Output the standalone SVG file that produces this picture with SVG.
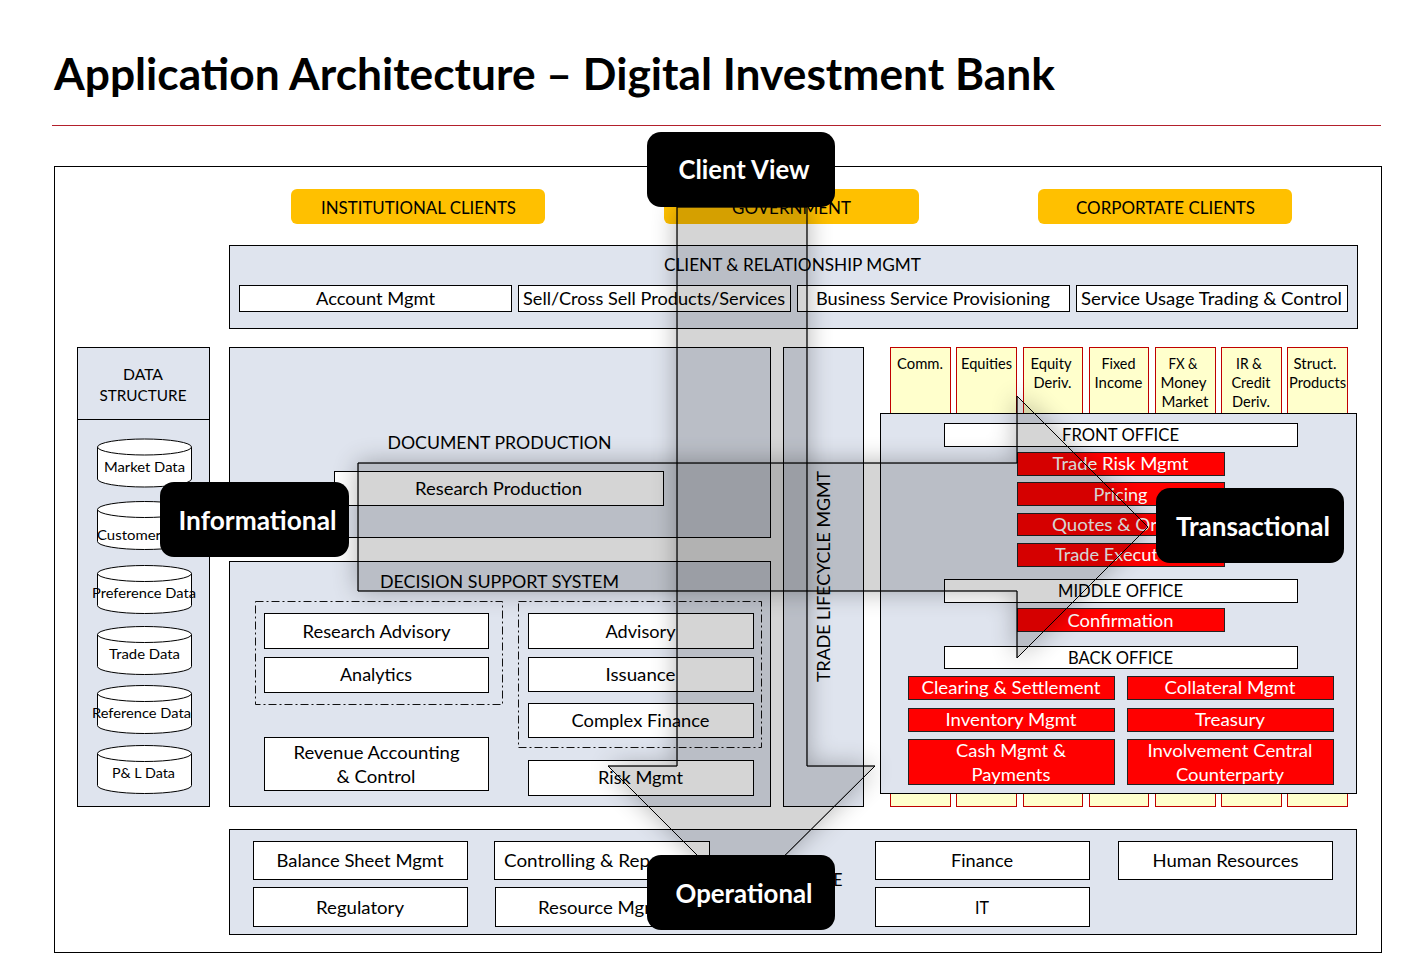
<svg xmlns="http://www.w3.org/2000/svg" xmlns:xlink="http://www.w3.org/1999/xlink" width="1428" height="971" viewBox="0 0 1428 971">
<style>
text{font-family:Lato,"Open Sans","Liberation Sans",sans-serif;fill:#000;text-anchor:middle;font-size:18px}
rect,path,ellipse{stroke:#000;stroke-width:1}
.panel{fill:#dfe4ee}
.box{fill:#fff}
.client{fill:#ffc000;stroke:none}
.prod{fill:#ffffcc;stroke:#c00000}
.red{fill:#ff0000;stroke:#222}
.red-t{fill:#fff}
.dash{fill:none;stroke-dasharray:8 3 2 3;stroke:#111}
.cyl{fill:#fff}
.small{font-size:14px}
.ptext{font-size:15px}
.lab{fill:#000;stroke:none}
.lab-t{fill:#fff;font-weight:700;font-size:26px}
.afill{fill:#000;fill-opacity:.165;stroke:none}
.aedge{fill:none;stroke:#ababab;stroke-opacity:.6;stroke-width:3}
.ashadow{fill:#000;stroke:none}
</style>
<defs>
<filter id="outer" x="-20%" y="-20%" width="140%" height="140%">
<feGaussianBlur in="SourceAlpha" stdDeviation="13" result="b"/>
<feComponentTransfer in="b" result="c"><feFuncA type="linear" slope=".3"/></feComponentTransfer>
<feComposite in="c" in2="SourceAlpha" operator="out"/>
</filter>
<path id="vArrow" d="M677 207H807V766H875L741 899L608 766H677Z"/>
<path id="hArrow" d="M358 463H1017V396L1148 527L1017 658V591H358Z"/>
<g id="cylShape"><path class="cyl" d="M97.500 8V40A47 8 0 0 0 191.500 40V8"/><ellipse class="cyl" cx="144.500" cy="8" rx="47" ry="8"/></g>
</defs>

<text x="54" y="90" style="text-anchor:start;font-weight:700;font-size:44px" textLength="1001" lengthAdjust="spacingAndGlyphs">Application Architecture – Digital Investment Bank</text>
<path d="M52 125.500H1381" style="stroke:#b3202c"/>
<rect x="54.500" y="166.500" width="1327" height="786" fill="#fff"/>

<g id="client-institutional"><rect class="client" x="291" y="189" width="254" height="35" rx="6"/><text x="418.500" y="214" textLength="195" lengthAdjust="spacingAndGlyphs">INSTITUTIONAL CLIENTS</text></g>
<g id="client-government"><rect class="client" x="664" y="189" width="255" height="35" rx="6"/><text x="791.500" y="214" textLength="119" lengthAdjust="spacingAndGlyphs">GOVERNMENT</text></g>
<g id="client-corporate"><rect class="client" x="1038" y="189" width="254" height="35" rx="6"/><text x="1165.500" y="214" textLength="179" lengthAdjust="spacingAndGlyphs">CORPORTATE CLIENTS</text></g>

<g id="client-relationship">
<rect class="panel" x="229.500" y="245.500" width="1128" height="83"/>
<text x="792.500" y="271" textLength="257" lengthAdjust="spacingAndGlyphs">CLIENT &amp; RELATIONSHIP MGMT</text>
<rect class="box" x="239.500" y="285.500" width="272" height="26"/><text x="375.500" y="305" textLength="119" lengthAdjust="spacingAndGlyphs">Account Mgmt</text>
<rect class="box" x="518.500" y="285.500" width="272" height="26"/><text x="654" y="305" textLength="262" lengthAdjust="spacingAndGlyphs">Sell/Cross Sell Products/Services</text>
<rect class="box" x="797.500" y="285.500" width="272" height="26"/><text x="933" y="305" textLength="234" lengthAdjust="spacingAndGlyphs">Business Service Provisioning</text>
<rect class="box" x="1076.500" y="285.500" width="271" height="26"/><text x="1211.500" y="305" textLength="261" lengthAdjust="spacingAndGlyphs">Service Usage Trading &amp; Control</text>
</g>

<g id="data-structure">
<rect class="panel" x="77.500" y="347.500" width="132" height="459"/>
<path d="M77.500 419.500H209.500"/>
<text class="ptext" style="font-size:16px" x="143" y="380" textLength="40" lengthAdjust="spacingAndGlyphs">DATA</text>
<text class="ptext" style="font-size:16px" x="143" y="401" textLength="87" lengthAdjust="spacingAndGlyphs">STRUCTURE</text>
<use xlink:href="#cylShape" href="#cylShape" y="439"/><text class="small" x="144.500" y="472" textLength="81" lengthAdjust="spacingAndGlyphs">Market Data</text>
<use xlink:href="#cylShape" href="#cylShape" y="501.500"/><text class="small" x="97" y="540" style="text-anchor:start" textLength="64" lengthAdjust="spacingAndGlyphs">Customer</text>
<use xlink:href="#cylShape" href="#cylShape" y="565.500"/><text class="small" x="144" y="598" textLength="104" lengthAdjust="spacingAndGlyphs">Preference Data</text>
<use xlink:href="#cylShape" href="#cylShape" y="626.500"/><text class="small" x="144.500" y="659" textLength="71" lengthAdjust="spacingAndGlyphs">Trade Data</text>
<use xlink:href="#cylShape" href="#cylShape" y="685.500"/><text class="small" x="141.500" y="718" textLength="99" lengthAdjust="spacingAndGlyphs">Reference Data</text>
<use xlink:href="#cylShape" href="#cylShape" y="745.500"/><text class="small" x="143.500" y="778" textLength="63" lengthAdjust="spacingAndGlyphs">P&amp; L Data</text>
</g>

<g id="document-production">
<rect class="panel" x="229.500" y="347.500" width="541" height="190"/>
<text x="499.500" y="449" textLength="224" lengthAdjust="spacingAndGlyphs">DOCUMENT PRODUCTION</text>
<rect class="box" x="334.500" y="471.500" width="329" height="34"/><text x="498.500" y="495" textLength="167" lengthAdjust="spacingAndGlyphs">Research Production</text>
</g>

<g id="decision-support">
<rect class="panel" x="229.500" y="561.500" width="541" height="245"/>
<text x="499.500" y="588" textLength="239" lengthAdjust="spacingAndGlyphs">DECISION SUPPORT SYSTEM</text>
<rect class="dash" x="255.500" y="601.500" width="247" height="103"/>
<rect class="dash" x="518.500" y="601.500" width="243" height="146"/>
<rect class="box" x="264.500" y="613.500" width="224" height="35"/><text x="376.500" y="638" textLength="148" lengthAdjust="spacingAndGlyphs">Research Advisory</text>
<rect class="box" x="264.500" y="657.500" width="224" height="35"/><text x="376" y="681" textLength="72" lengthAdjust="spacingAndGlyphs">Analytics</text>
<rect class="box" x="528.500" y="613.500" width="225" height="35"/><text x="640.500" y="638" textLength="70" lengthAdjust="spacingAndGlyphs">Advisory</text>
<rect class="box" x="528.500" y="657.500" width="225" height="34"/><text x="640.500" y="681" textLength="70" lengthAdjust="spacingAndGlyphs">Issuance</text>
<rect class="box" x="528.500" y="703.500" width="225" height="34"/><text x="640.500" y="727" textLength="138" lengthAdjust="spacingAndGlyphs">Complex Finance</text>
<rect class="box" x="264.500" y="737.500" width="224" height="53"/><text x="376.500" y="759" textLength="166" lengthAdjust="spacingAndGlyphs">Revenue Accounting</text><text x="376" y="783" textLength="79" lengthAdjust="spacingAndGlyphs">&amp; Control</text>
<rect class="box" x="528.500" y="760.500" width="225" height="35"/><text x="640.500" y="784" textLength="85" lengthAdjust="spacingAndGlyphs">Risk Mgmt</text>
</g>

<g id="trade-lifecycle">
<rect class="panel" x="783.500" y="347.500" width="80" height="459"/>
<text transform="translate(830 576.500) rotate(-90)" textLength="211" lengthAdjust="spacingAndGlyphs">TRADE LIFECYCLE MGMT</text>
</g>

<g id="products">
<rect class="prod" x="890.500" y="347.500" width="60" height="459"/><text class="ptext" x="920" y="369" textLength="46" lengthAdjust="spacingAndGlyphs">Comm.</text>
<rect class="prod" x="956.500" y="347.500" width="60" height="459"/><text class="ptext" x="986.500" y="369" textLength="51" lengthAdjust="spacingAndGlyphs">Equities</text>
<rect class="prod" x="1023.500" y="347.500" width="59" height="459"/><text class="ptext" x="1051" y="369" textLength="41" lengthAdjust="spacingAndGlyphs">Equity</text><text class="ptext" x="1052.500" y="388" textLength="38" lengthAdjust="spacingAndGlyphs">Deriv.</text>
<rect class="prod" x="1089.500" y="347.500" width="59" height="459"/><text class="ptext" x="1118.500" y="369" textLength="34" lengthAdjust="spacingAndGlyphs">Fixed</text><text class="ptext" x="1118.500" y="388" textLength="48" lengthAdjust="spacingAndGlyphs">Income</text>
<rect class="prod" x="1155.500" y="347.500" width="60" height="459"/><text class="ptext" x="1183" y="369" textLength="29" lengthAdjust="spacingAndGlyphs">FX &amp;</text><text class="ptext" x="1183.500" y="388" textLength="46" lengthAdjust="spacingAndGlyphs">Money</text><text class="ptext" x="1185" y="407" textLength="47" lengthAdjust="spacingAndGlyphs">Market</text>
<rect class="prod" x="1221.500" y="347.500" width="60" height="459"/><text class="ptext" x="1249" y="369" textLength="26" lengthAdjust="spacingAndGlyphs">IR &amp;</text><text class="ptext" x="1251" y="388" textLength="39" lengthAdjust="spacingAndGlyphs">Credit</text><text class="ptext" x="1251" y="407" textLength="38" lengthAdjust="spacingAndGlyphs">Deriv.</text>
<rect class="prod" x="1287.500" y="347.500" width="60" height="459"/><text class="ptext" x="1315" y="369" textLength="43" lengthAdjust="spacingAndGlyphs">Struct.</text><text class="ptext" x="1317.500" y="388" textLength="57" lengthAdjust="spacingAndGlyphs">Products</text>
</g>

<g id="offices">
<rect class="panel" x="880.500" y="413.500" width="476" height="380"/>
<rect class="box" x="944.500" y="423.500" width="353" height="23"/><text x="1120.500" y="441" textLength="117" lengthAdjust="spacingAndGlyphs">FRONT OFFICE</text>
<rect class="red" x="1017.500" y="452.500" width="207" height="23"/><text class="red-t" x="1120.500" y="470" textLength="136" lengthAdjust="spacingAndGlyphs">Trade Risk Mgmt</text>
<rect class="red" x="1017.500" y="482.500" width="207" height="23"/><text class="red-t" x="1120.500" y="501" textLength="54" lengthAdjust="spacingAndGlyphs">Pricing</text>
<rect class="red" x="1017.500" y="513.500" width="207" height="22"/><text class="red-t" x="1052" y="531" style="text-anchor:start" textLength="105" lengthAdjust="spacingAndGlyphs">Quotes &amp; Or</text>
<rect class="red" x="1017.500" y="543.500" width="207" height="23"/><text class="red-t" x="1055" y="561" style="text-anchor:start" textLength="103" lengthAdjust="spacingAndGlyphs">Trade Execut</text>
<rect class="box" x="944.500" y="579.500" width="353" height="23"/><text x="1120.500" y="597" textLength="125" lengthAdjust="spacingAndGlyphs">MIDDLE OFFICE</text>
<rect class="red" x="1017.500" y="608.500" width="207" height="23"/><text class="red-t" x="1120.500" y="627" textLength="106" lengthAdjust="spacingAndGlyphs">Confirmation</text>
<rect class="box" x="944.500" y="646.500" width="353" height="22"/><text x="1120.500" y="664" textLength="105" lengthAdjust="spacingAndGlyphs">BACK OFFICE</text>
<rect class="red" x="908.500" y="676.500" width="206" height="23"/><text class="red-t" x="1011" y="694" textLength="179" lengthAdjust="spacingAndGlyphs">Clearing &amp; Settlement</text>
<rect class="red" x="1127.500" y="676.500" width="206" height="23"/><text class="red-t" x="1230" y="694" textLength="131" lengthAdjust="spacingAndGlyphs">Collateral Mgmt</text>
<rect class="red" x="908.500" y="708.500" width="206" height="23"/><text class="red-t" x="1011" y="726" textLength="131" lengthAdjust="spacingAndGlyphs">Inventory Mgmt</text>
<rect class="red" x="1127.500" y="708.500" width="206" height="23"/><text class="red-t" x="1230" y="726" textLength="70" lengthAdjust="spacingAndGlyphs">Treasury</text>
<rect class="red" x="908.500" y="739.500" width="206" height="45"/><text class="red-t" x="1011" y="757" textLength="110" lengthAdjust="spacingAndGlyphs">Cash Mgmt &amp;</text><text class="red-t" x="1011" y="781" textLength="79" lengthAdjust="spacingAndGlyphs">Payments</text>
<rect class="red" x="1127.500" y="739.500" width="206" height="45"/><text class="red-t" x="1230" y="757" textLength="165" lengthAdjust="spacingAndGlyphs">Involvement Central</text><text class="red-t" x="1230" y="781" textLength="108" lengthAdjust="spacingAndGlyphs">Counterparty</text>
</g>

<g id="operational-systems">
<rect class="panel" x="229.500" y="829.500" width="1127" height="105"/>
<rect class="box" x="253.500" y="841.500" width="214" height="38"/><text x="360" y="867" textLength="167" lengthAdjust="spacingAndGlyphs">Balance Sheet Mgmt</text>
<rect class="box" x="253.500" y="887.500" width="214" height="39"/><text x="360" y="914" textLength="88" lengthAdjust="spacingAndGlyphs">Regulatory</text>
<rect class="box" x="494.500" y="841.500" width="215" height="38"/><text x="504" y="867" style="text-anchor:start" textLength="146" lengthAdjust="spacingAndGlyphs">Controlling  &amp; Rep</text>
<rect class="box" x="495.500" y="887.500" width="214" height="39"/><text x="538" y="914" style="text-anchor:start" textLength="113" lengthAdjust="spacingAndGlyphs">Resource Mgr</text>
<text x="838" y="886" textLength="9" lengthAdjust="spacingAndGlyphs">E</text>
<rect class="box" x="875.500" y="841.500" width="214" height="38"/><text x="982" y="867" textLength="62" lengthAdjust="spacingAndGlyphs">Finance</text>
<rect class="box" x="875.500" y="887.500" width="214" height="39"/><text x="982" y="914" textLength="14" lengthAdjust="spacingAndGlyphs">IT</text>
<rect class="box" x="1118.500" y="841.500" width="214" height="38"/><text x="1225.500" y="867" textLength="146" lengthAdjust="spacingAndGlyphs">Human Resources</text>
</g>

<g id="connectors">
<use href="#hArrow" xlink:href="#hArrow" class="ashadow" filter="url(#outer)"/>
<use href="#hArrow" xlink:href="#hArrow" class="afill"/>
<use href="#hArrow" xlink:href="#hArrow" class="aedge"/>
<use href="#vArrow" xlink:href="#vArrow" class="ashadow" filter="url(#outer)"/>
<use href="#vArrow" xlink:href="#vArrow" class="afill"/>
<use href="#vArrow" xlink:href="#vArrow" class="aedge"/>
</g>

<g id="label-client-view"><rect class="lab" x="647" y="132" width="188" height="75" rx="14"/><text class="lab-t" x="744" y="179" textLength="131" lengthAdjust="spacingAndGlyphs">Client View</text></g>
<g id="label-informational"><rect class="lab" x="160" y="482" width="189" height="75" rx="14"/><text class="lab-t" x="257.500" y="530" textLength="158" lengthAdjust="spacingAndGlyphs">Informational</text></g>
<g id="label-transactional"><rect class="lab" x="1156" y="488" width="188" height="75" rx="14"/><text class="lab-t" x="1253" y="536" textLength="154" lengthAdjust="spacingAndGlyphs">Transactional</text></g>
<g id="label-operational"><rect class="lab" x="647" y="855" width="188" height="75" rx="14"/><text class="lab-t" x="744" y="903" textLength="137" lengthAdjust="spacingAndGlyphs">Operational</text></g>
</svg>
